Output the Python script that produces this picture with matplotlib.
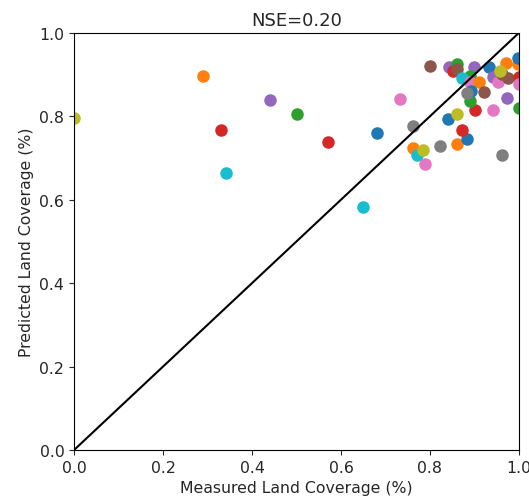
import matplotlib
matplotlib.use("Agg")
import matplotlib.pyplot as plt

# measured vs predicted land coverage, one point per site
measured = [0.0, 0.29, 0.33, 0.342, 0.44, 0.501, 0.571, 0.681, 0.733, 0.649,
            0.762, 0.762, 0.771, 0.784, 0.789, 0.822, 0.861, 0.883, 0.962, 0.872,
            0.840, 0.861, 0.901, 0.942, 0.890, 0.973, 1.0, 0.80, 0.843, 0.852,
            0.861, 0.861, 0.899, 0.890, 0.872, 0.933, 0.971, 0.998, 0.998, 0.890,
            0.910, 0.892, 0.883, 0.922, 0.942, 0.953, 0.962, 0.975, 0.957, 1.0,
            1.0]
predicted = [0.795, 0.897, 0.767, 0.664, 0.839, 0.806, 0.739, 0.760, 0.842, 0.583,
             0.777, 0.724, 0.707, 0.719, 0.686, 0.729, 0.734, 0.746, 0.707, 0.767,
             0.794, 0.806, 0.815, 0.815, 0.837, 0.844, 0.820, 0.921, 0.918, 0.908,
             0.926, 0.914, 0.918, 0.897, 0.892, 0.918, 0.928, 0.926, 0.940, 0.882,
             0.882, 0.860, 0.856, 0.858, 0.894, 0.882, 0.902, 0.892, 0.909, 0.894,
             0.877]
point_colors = ["C8", "C1", "C3", "C9", "C4", "C2", "C3", "C0", "C6", "C9",
                "C7", "C1", "C9", "C8", "C6", "C7", "C1", "C0", "C7", "C3",
                "C0", "C8", "C3", "C6", "C2", "C4", "C2", "C5", "C4", "C3",
                "C2", "C5", "C4", "C2", "C9", "C0", "C1", "C1", "C0", "C6",
                "C1", "C0", "C7", "C5", "C4", "C6", "C5", "C5", "C8", "C3",
                "C6"]
nse = 0.20

fig = plt.figure(figsize=(5.29, 5.02), dpi=100)
ax = fig.add_axes([0.140, 0.1016, 0.841, 0.831])

for x, y, c in zip(measured, predicted, point_colors):
    ax.scatter(x, y, s=64, color=c)

ax.plot([0, 1], [0, 1], color="black", lw=1.5)

ax.set_xlim(0, 1)
ax.set_ylim(0, 1)
ax.set_xticks([0.0, 0.2, 0.4, 0.6, 0.8, 1.0])
ax.set_yticks([0.0, 0.2, 0.4, 0.6, 0.8, 1.0])
ax.tick_params(labelsize=11.3, colors="#262626")
ax.set_xlabel("Measured Land Coverage (%)", fontsize=11.3, color="#262626")
ax.set_ylabel("Predicted Land Coverage (%)", fontsize=11.3, color="#262626")
ax.set_title("NSE=%.2f" % nse, fontsize=13, color="#262626")

fig.savefig("out.png", dpi=100)
